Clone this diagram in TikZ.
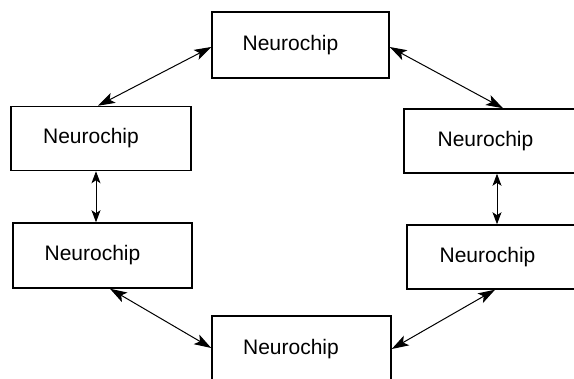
\documentclass[tikz,border=0pt]{standalone}
\usepackage{fontspec}
\setmainfont{Liberation Sans}
\usetikzlibrary{arrows.meta,calc}
\begin{document}
\begin{tikzpicture}[x=1pt,y=-1pt,
  chip/.style={draw,line width=1.5pt,inner sep=0pt,fill=white},
  lbl/.style={inner sep=0pt,font=\fontsize{21}{25}\selectfont},
  link/.style={line width=1pt,arrows={Stealth[length=17pt,width=11pt,inset=4pt]-Stealth[length=17pt,width=11pt,inset=4pt]}},
  vlink/.style={line width=1pt,arrows={Stealth[length=12pt,width=9pt,inset=3pt]-Stealth[length=12pt,width=9pt,inset=3pt]}}]
\useasboundingbox[fill=white] (0,0) rectangle (574,379);
\node[chip,minimum width=177pt,minimum height=66pt] (t) at (300.5,45) {};
\node[chip,minimum width=180pt,minimum height=64pt] (lu) at (101,138.5) {};
\node[chip,minimum width=179pt,minimum height=65pt] (ll) at (102.5,255.5) {};
\node[chip,minimum width=172pt,minimum height=64pt] (ru) at (490,141) {};
\node[chip,minimum width=169pt,minimum height=64pt] (rl) at (491.5,257) {};
\node[chip,minimum width=179pt,minimum height=66pt] (b) at (301.5,349) {};
\node[lbl] (tl) at ($(t)+(-10,0)$) {Neurochip};
\node[lbl] (lul) at ($(lu)+(-10,0)$) {Neurochip};
\node[lbl] (lll) at ($(ll)+(-10,0)$) {Neurochip};
\node[lbl] (rul) at ($(ru)+(-4.5,0)$) {Neurochip};
\node[lbl] (rll) at ($(rl)+(-4,0)$) {Neurochip};
\node[lbl] (bl) at ($(b)+(-10.5,0)$) {Neurochip};
\draw[link] ([yshift=-2pt]t.west) -- ([xshift=-3pt]lu.north);
\draw[link] ([yshift=-2pt]t.east) -- ([xshift=13pt]ru.north);
\draw[vlink] ([xshift=-5pt]lu.south) -- ([xshift=-6.5pt]ll.north);
\draw[vlink] ([xshift=7pt]ru.south) -- ([xshift=5.5pt]rl.north);
\draw[link] ([xshift=7.5pt]ll.south) -- ([yshift=1pt]b.west);
\draw[link] ([xshift=3.5pt]rl.south) -- (b.east);
\end{tikzpicture}
\end{document}
